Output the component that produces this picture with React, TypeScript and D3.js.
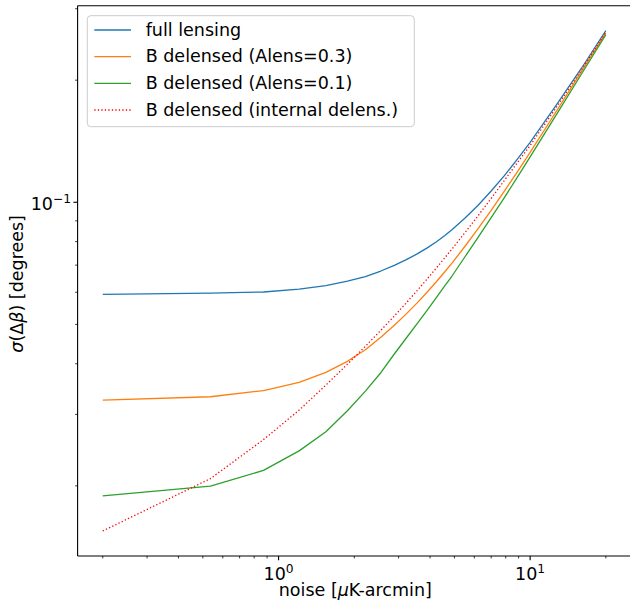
import React, { useEffect, useRef } from 'react'
import * as d3 from 'd3'

// noise levels [uK-arcmin]
const NOISE = [0.2, 0.536, 0.871, 1.207, 1.542, 1.878, 2.214, 2.549, 2.885, 3.22, 3.556, 3.9, 4.23, 4.57, 4.9, 5.5, 6.2, 7.0, 7.9, 8.9, 10, 12.7, 16, 20]

// sigma(delta beta) [degrees]
const FULL_LENSING = [0.0593, 0.0597, 0.0601, 0.0611, 0.0623, 0.0639, 0.0656, 0.0677, 0.0699, 0.0722, 0.0746, 0.0772, 0.0798, 0.0827, 0.0857, 0.0913, 0.0982, 0.1066, 0.1163, 0.1277, 0.1405, 0.1735, 0.214, 0.2648]
const ALENS_03 = [0.03255, 0.03316, 0.03435, 0.03599, 0.03809, 0.04055, 0.04331, 0.04648, 0.04975, 0.05308, 0.0565, 0.06012, 0.06362, 0.06731, 0.07092, 0.0778, 0.086, 0.0955, 0.1066, 0.1189, 0.1327, 0.1674, 0.2103, 0.2611]
const ALENS_01 = [0.01889, 0.01996, 0.02183, 0.02439, 0.02718, 0.03062, 0.03425, 0.03801, 0.04227, 0.04629, 0.0502, 0.0542, 0.0581, 0.0621, 0.0659, 0.0733, 0.0818, 0.0917, 0.1027, 0.1154, 0.1294, 0.1643, 0.2071, 0.2588]
const INTERNAL = [0.01548, 0.02084, 0.026, 0.03074, 0.03543, 0.03989, 0.04416, 0.04834, 0.05244, 0.05652, 0.06058, 0.06475, 0.06875, 0.07285, 0.07681, 0.08408, 0.09253, 0.1022, 0.1132, 0.1253, 0.138, 0.1712, 0.212, 0.2627]

const LABELS = ['full lensing', 'B delensed (Alens=0.3)', 'B delensed (Alens=0.1)', 'B delensed (internal delens.)']
const COLORS = ['#1f77b4', '#ff7f0e', '#2ca02c', '#ff0000']

const W = 630
const H = 602
const FONT = 'DejaVu Sans, sans-serif'
const FS = 17.5

export default function App() {
  const svgRef = useRef<SVGSVGElement>(null)

  useEffect(() => {
    if (!svgRef.current) return
    const svg = d3.select(svgRef.current)
    svg.selectAll('*').remove()

    const series = [FULL_LENSING, ALENS_03, ALENS_01, INTERNAL].map((values, i) => ({
      label: LABELS[i], color: COLORS[i], dotted: i === 3,
      points: NOISE.map((x, j) => [x, values[j]] as [number, number]),
    }))

    // matplotlib-style 5% margins in log space
    const lx = d3.extent(NOISE).map(Math.log10) as number[]
    const allY = series.flatMap(s => s.points.map(p => p[1]))
    const ly = d3.extent(allY).map(Math.log10) as number[]
    const mx = (lx[1] - lx[0]) * 0.05
    const my = (ly[1] - ly[0]) * 0.05

    const left = 77.6, top = 5.7, bottom = 556, right = 631
    const x = d3.scaleLog().domain([10 ** (lx[0] - mx), 10 ** (lx[1] + mx)]).range([left, right])
    const y = d3.scaleLog().domain([10 ** (ly[0] - my), 10 ** (ly[1] + my)]).range([bottom, top])

    const g = svg.append('g')

    // curves
    const line = d3.line<[number, number]>().x(d => x(d[0])).y(d => y(d[1]))
    series.forEach(s => {
      g.append('path')
        .attr('d', line(s.points))
        .attr('fill', 'none')
        .attr('stroke', s.color)
        .attr('stroke-width', 1.3)
        .attr('stroke-linejoin', 'round')
        .attr('stroke-dasharray', s.dotted ? '1.3,2.2' : null)
    })

    // spines
    g.append('line').attr('x1', left).attr('x2', left).attr('y1', top).attr('y2', bottom)
      .attr('stroke', '#000').attr('stroke-width', 1.1)
    g.append('line').attr('x1', left).attr('x2', right).attr('y1', bottom).attr('y2', bottom)
      .attr('stroke', '#000').attr('stroke-width', 1.1)
    g.append('line').attr('x1', left).attr('x2', right).attr('y1', top).attr('y2', top)
      .attr('stroke', '#000').attr('stroke-width', 1.1)

    const isMajor = (v: number) => Math.abs(Math.log10(v) - Math.round(Math.log10(v))) < 1e-9

    const sup = (sel: any, v: number) => {
      const e = Math.round(Math.log10(v))
      sel.append('tspan').text('10')
      sel.append('tspan').attr('dy', -7).attr('font-size', FS * 0.7)
        .text(e < 0 ? `\u2212${-e}` : `${e}`)
    }

    // x ticks
    x.ticks().forEach(v => {
      const px = x(v)
      const major = isMajor(v)
      g.append('line').attr('x1', px).attr('x2', px).attr('y1', bottom).attr('y2', bottom + (major ? 4.2 : 2.4))
        .attr('stroke', '#000').attr('stroke-width', major ? 1.1 : 0.8)
      if (major) {
        const t = g.append('text').attr('x', px).attr('y', 580)
          .attr('text-anchor', 'middle').attr('font-family', FONT).attr('font-size', FS).attr('fill', '#000')
        sup(t, v)
      }
    })

    // y ticks
    y.ticks().forEach(v => {
      const py = y(v)
      const major = isMajor(v)
      g.append('line').attr('x1', left).attr('x2', left - (major ? 4.2 : 2.4)).attr('y1', py).attr('y2', py)
        .attr('stroke', '#000').attr('stroke-width', major ? 1.1 : 0.8)
      if (major) {
        const t = g.append('text').attr('x', 71).attr('y', py + 7.3)
          .attr('text-anchor', 'end').attr('font-family', FONT).attr('font-size', FS).attr('fill', '#000')
        sup(t, v)
      }
    })

    // axis labels
    const xl = g.append('text').attr('x', (left + right) / 2 + 1).attr('y', 596)
      .attr('text-anchor', 'middle').attr('font-family', FONT).attr('font-size', FS).attr('fill', '#000')
    xl.append('tspan').text('noise [')
    xl.append('tspan').attr('font-style', 'italic').text('\u03bc')
    xl.append('tspan').text('K-arcmin]')

    const yl = g.append('text').attr('transform', `translate(23,${(top + bottom) / 2 + 3}) rotate(-90)`)
      .attr('text-anchor', 'middle').attr('font-family', FONT).attr('font-size', FS).attr('fill', '#000')
    yl.append('tspan').attr('font-style', 'italic').text('\u03c3')
    yl.append('tspan').text('(\u0394')
    yl.append('tspan').attr('font-style', 'italic').text('\u03b2')
    yl.append('tspan').text(') [degrees]')

    // legend
    const lg = g.append('g')
    lg.append('rect').attr('x', 87.3).attr('y', 15.7).attr('width', 327).attr('height', 111)
      .attr('rx', 3.5).attr('fill', '#fff').attr('fill-opacity', 0.8)
      .attr('stroke', '#cccccc').attr('stroke-width', 1)
    series.forEach((s, i) => {
      const ly0 = 30 + i * 26.67
      lg.append('line').attr('x1', 94.3).attr('x2', 131).attr('y1', ly0).attr('y2', ly0)
        .attr('stroke', s.color).attr('stroke-width', 1.3)
        .attr('stroke-dasharray', s.dotted ? '1.3,2.2' : null)
      lg.append('text').attr('x', 145.7).attr('y', ly0 + 5.8)
        .attr('font-family', FONT).attr('font-size', FS).attr('fill', '#000')
        .text(s.label)
    })
  }, [])

  return (
    <svg ref={svgRef} width={W} height={H}
      style={{ position: 'absolute', left: 0, top: 0, display: 'block', background: '#fff' }} />
  )
}
